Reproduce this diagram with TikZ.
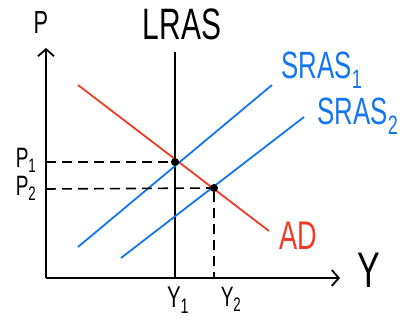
\documentclass[tikz,border=0pt]{standalone}
\usepackage{fontspec}
\usepackage{graphicx}
\setmainfont{Liberation Sans}
\usetikzlibrary{arrows.meta}
\definecolor{adred}{RGB}{240,58,36}
\definecolor{asblue}{RGB}{18,118,240}
\newcommand{\hw}[2]{\fontsize{#1}{#1}\selectfont\scalebox{0.68}[1]{#2}}
\tikzset{
  axis/.style={line width=1.8pt, -{Straight Barb[length=7pt,width=16pt,line width=1.8pt]}},
  curve/.style={line width=1.8pt},
  guide/.style={line width=1.6pt, dash pattern=on 10pt off 6pt},
  lab/.style={inner sep=0pt, anchor=center},
  dot/.style={circle, fill=black, inner sep=0pt, minimum size=8pt}
}
\begin{document}
\begin{tikzpicture}[x=1pt,y=-1pt]
\useasboundingbox (0,0) rectangle (404,320);
\coordinate (O) at (46,278);
\coordinate (Ptop) at (46,48);
\coordinate (Yend) at (340,278);
\draw[axis] (O) -- (Ptop);
\draw[axis] (O) -- (Yend);
% LRAS
\coordinate (Ltop) at (175,52);
\coordinate (Lbot) at (175,278);
\draw[line width=1.8pt] (Lbot) -- (Ltop);
% AD
\coordinate (ADa) at (78,85);
\coordinate (ADb) at (269,231);
\draw[curve, adred] (ADa) -- (ADb);
% SRAS1
\coordinate (S1a) at (78,247);
\coordinate (S1b) at (272,85);
\draw[curve, asblue] (S1a) -- (S1b);
% SRAS2
\coordinate (S2a) at (121,258);
\coordinate (S2b) at (304,117);
\draw[curve, asblue] (S2a) -- (S2b);
% equilibria
\node[dot] (E1) at (175,162) {};
\node[dot] (E2) at (214,188) {};
\coordinate (P1a) at (46,162);
\coordinate (P2a) at (46,189);
\coordinate (Y2a) at (214,278);
\draw[guide] (P1a) -- (E1);
\draw[guide] (P2a) -- (E2);
\draw[guide] (E2) -- (Y2a);
% labels
\node[lab] (lP) at (41,22) {\hw{32}{P}};
\node[lab] (lY) at (369,270) {\hw{50}{Y}};
\node[lab] (lL) at (182,24) {\hw{44}{LRAS}};
\node[lab, asblue] (lS1) at (322,70) {\hw{38}{SRAS\textsubscript{1}}};
\node[lab, asblue] (lS2) at (358,116) {\hw{38}{SRAS\textsubscript{2}}};
\node[lab, adred] (lAD) at (298,236) {\hw{40}{AD}};
\node[lab] (lP1) at (26,160) {\hw{28}{P\textsubscript{1}}};
\node[lab] (lP2) at (26,188) {\hw{28}{P\textsubscript{2}}};
\node[lab] (lY1) at (178,300) {\hw{30}{Y\textsubscript{1}}};
\node[lab] (lY2) at (231,299) {\hw{28}{Y\textsubscript{2}}};
\end{tikzpicture}
\end{document}
